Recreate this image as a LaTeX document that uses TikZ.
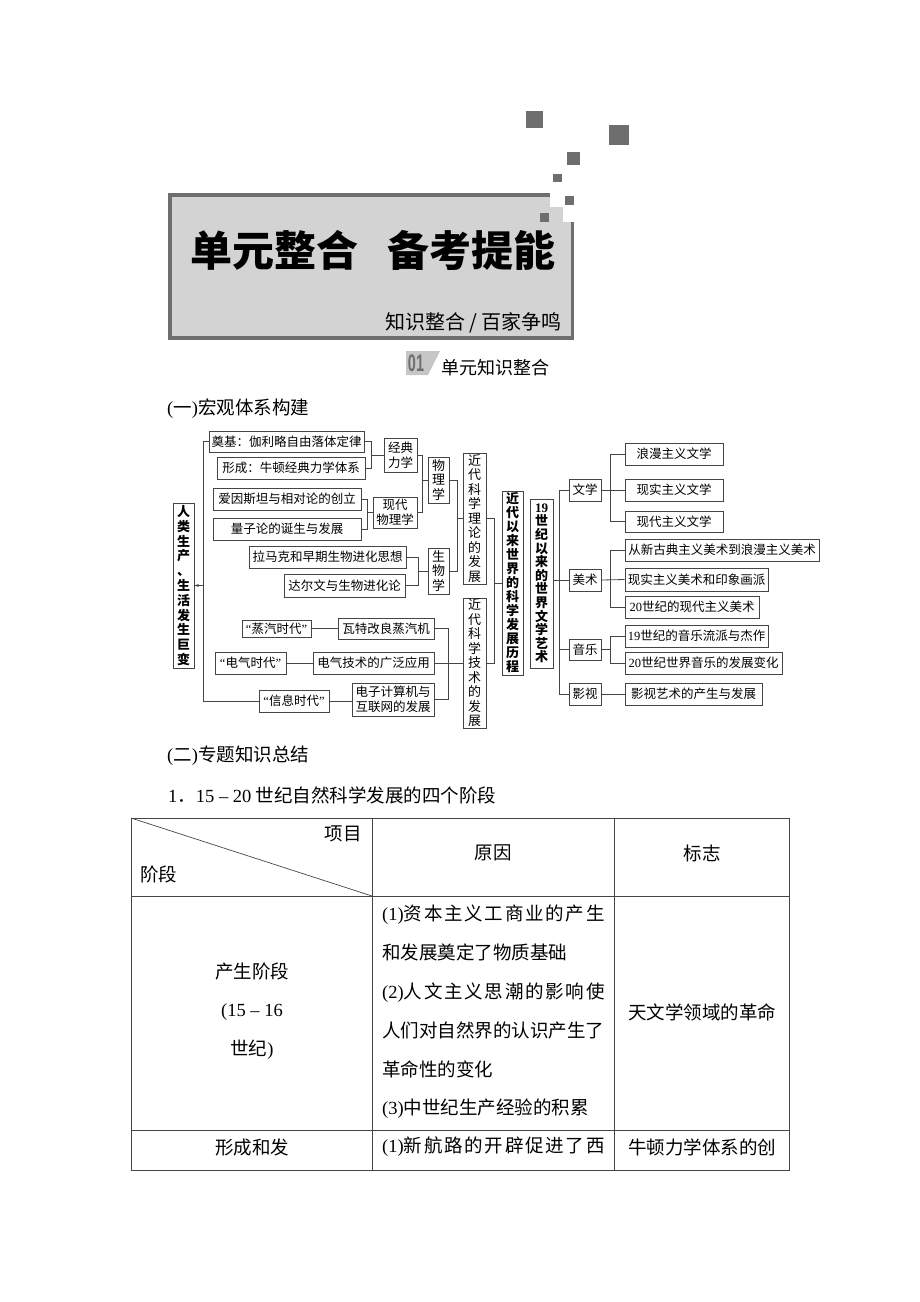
\documentclass[tikz,border=0pt]{standalone}
\usepackage{fontspec}
\setmainfont{Liberation Serif}
\newfontfamily\cjk{Noto Sans CJK SC}
\newfontfamily\latsans{Liberation Sans}
\usetikzlibrary{arrows.meta}

\definecolor{framegray}{HTML}{6E6E6E}
\definecolor{panelgray}{HTML}{D3D3D3}
\definecolor{linegray}{HTML}{454545}
\definecolor{taggray}{HTML}{C6C6C6}

\tikzset{
  box/.style={draw=linegray, line width=0.8pt, inner sep=0pt, align=center,
    font=\cjk\fontsize{12.5}{14.5}\selectfont},
  vbox/.style={box, font=\cjk\fontsize{13}{14.5}\selectfont},
  link/.style={draw=linegray, line width=0.8pt},
  heading/.style={anchor=west, inner sep=0pt, font=\cjk\fontsize{18.5}{18.5}\selectfont},
  tabline/.style={draw=linegray, line width=0.9pt},
  tabtext/.style={inner sep=0pt, font=\cjk\fontsize{18.5}{38.8}\selectfont},
}

% box from corner (x1,y1) to (x2,y2), pixel units
\newcommand\bx[7][]{%
  \node[box,#1,minimum width={#5-#3},minimum height={#6-#4}] (#2)
    at ({(#3+#5)/2},{(#4+#6)/2}) {#7};}

% justified table line
\newcommand\fullline[1]{{\addfontfeature{LetterSpace=9.5}#1}}

\begin{document}
\begin{tikzpicture}[x=1pt, y=-1pt]
  \useasboundingbox (0,0) rectangle (920,1302);

  % header panel
  \fill[panelgray] (170,195) rectangle (572.5,338);
  \fill[white] (550,190) rectangle (580,207);
  \fill[white] (563,207) rectangle (580,222);
  \draw[framegray, line width=3.5pt] (550,195) -- (170,195) -- (170,338) -- (572.5,338) -- (572.5,222);

  % small squares
  \foreach \xa/\ya/\xb/\yb in {526/111/543/128, 609/125/629/145, 567/152/580/165,
      553/174/562/182, 565/196/574/205, 540/213/549/222}
    \fill[framegray] (\xa,\ya) rectangle (\xb,\yb);

  \node[font=\cjk\bfseries\fontsize{42}{42}\selectfont] (title) at (373,250) {单元整合\hspace{30pt}备考提能};
  \node[anchor=east, inner sep=0pt, font=\cjk\fontsize{20}{20}\selectfont] (subtitle) at (562,323) {知识整合 / 百家争鸣};

  % section tag
  \fill[taggray] (406,351) -- (440,351) -- (428,375) -- (406,375) -- cycle;
  \node[inner sep=0pt, xscale=0.6, text=framegray, font=\latsans\bfseries\fontsize{24}{24}\selectfont] (tagnum) at (416,363) {01};
  \node[heading, font=\cjk\fontsize{18}{18}\selectfont] (tagtext) at (441,368) {单元知识整合};

  \node[heading] (sec1) at (167,409) {\textrm{(}一\textrm{)}宏观体系构建};
  \node[heading] (sec2) at (167,756) {\textrm{(}二\textrm{)}专题知识总结};

  % tree: left part
  \bx[vbox, font=\cjk\bfseries\fontsize{13}{14.8}\selectfont]{renlei}{173}{503}{194}{668}{人\\类\\生\\产\\、\\生\\活\\发\\生\\巨\\变}
  \bx{dianji}{209}{431}{364}{452}{奠基：伽利略自由落体定律}
  \bx{xingcheng}{217}{457}{365}{479}{形成：牛顿经典力学体系}
  \bx{aiyinsitan}{213}{488}{361}{510}{爱因斯坦与相对论的创立}
  \bx{liangzi}{213}{518}{361}{540}{量子论的诞生与发展}
  \bx{jingdian}{384}{438}{417}{472}{经典\\力学}
  \bx{xiandai}{373}{497}{417}{528}{现代\\物理学}
  \bx[vbox]{wuli}{428}{457}{449}{503}{物\\理\\学}
  \bx{lamake}{249}{546}{406}{568}{拉马克和早期生物进化思想}
  \bx{daerwen}{284}{574}{405}{597}{达尔文与生物进化论}
  \bx[vbox]{shengwu}{428}{548}{449}{594}{生\\物\\学}
  \bx[vbox]{lilun}{463}{453}{486}{584}{近\\代\\科\\学\\理\\论\\的\\发\\展}
  \bx{zhengqi}{242}{620}{311}{637}{\textrm{“}蒸汽时代\textrm{”}}
  \bx{wate}{338}{618}{434}{639}{瓦特改良蒸汽机}
  \bx{dianqi}{215}{652}{286}{674}{\textrm{“}电气时代\textrm{”}}
  \bx{dianqijishu}{313}{652}{434}{674}{电气技术的广泛应用}
  \bx{xinxi}{259}{690}{329}{712}{\textrm{“}信息时代\textrm{”}}
  \bx[font=\cjk\fontsize{12.5}{15}\selectfont]{jisuanji}{352}{683}{434}{716}{电子计算机与\\互联网的发展}
  \bx[vbox]{jishu}{463}{598}{486}{728}{近\\代\\科\\学\\技\\术\\的\\发\\展}
  \bx[vbox, font=\cjk\bfseries\fontsize{13}{14}\selectfont]{lichen}{502}{491}{523}{675}{近\\代\\以\\来\\世\\界\\的\\科\\学\\发\\展\\历\\程}

  % tree: right part
  \bx[vbox, font=\cjk\bfseries\fontsize{13}{13.6}\selectfont]{yishu}{530}{499}{553}{668}{\textrm{19}\\世\\纪\\以\\来\\的\\世\\界\\文\\学\\艺\\术}
  \bx{wenxue}{569}{479}{601}{501}{文学}
  \bx{meishu}{569}{569}{601}{591}{美术}
  \bx{yinyue}{569}{639}{601}{660}{音乐}
  \bx{yingshi}{569}{683}{601}{705}{影视}
  \bx{langman}{625}{443}{723}{465}{浪漫主义文学}
  \bx{xianshi}{625}{479}{723}{501}{现实主义文学}
  \bx{xiandaiwx}{625}{511}{723}{532}{现代主义文学}
  \bx{xingudian}{625}{539}{819}{561}{从新古典主义美术到浪漫主义美术}
  \bx{xianshims}{625}{568}{768}{591}{现实主义美术和印象画派}
  \bx{ershims}{625}{596}{759}{618}{\textrm{20}世纪的现代主义美术}
  \bx{yinyue19}{625}{625}{768}{647}{\textrm{19}世纪的音乐流派与杰作}
  \bx{yinyue20}{625}{652}{782}{674}{\textrm{20}世纪世界音乐的发展变化}
  \bx{yingshiys}{625}{683}{762}{705}{影视艺术的产生与发展}

  % connectors, left
  \coordinate (lx) at (203,0);
  \draw[link] (dianji.west) -- (dianji.west -| lx) -- (xinxi.west -| lx) -- (xinxi.west);
  \draw[link, -{Stealth[length=4.5pt, width=3pt]}] (lx |- renlei.east) -- (renlei.east);

  % physics
  \coordinate (b1) at (371,0);
  \draw[link] (dianji.east) -- (dianji.east -| b1) -- (xingcheng.east -| b1) -- (xingcheng.east);
  \draw[link] (jingdian.west) -- (jingdian.west -| b1);
  \coordinate (b2) at (367,0);
  \draw[link] (aiyinsitan.east) -- (aiyinsitan.east -| b2) -- (liangzi.east -| b2) -- (liangzi.east);
  \draw[link] (xiandai.west) -- (xiandai.west -| b2);
  \coordinate (b3) at (422,0);
  \draw[link] (jingdian.east) -- (jingdian.east -| b3) -- (xiandai.east -| b3) -- (xiandai.east);
  \draw[link] (wuli.west) -- (wuli.west -| b3);

  % biology
  \coordinate (b4) at (418,0);
  \draw[link] (lamake.east) -- (lamake.east -| b4) -- (daerwen.east -| b4) -- (daerwen.east);
  \draw[link] (shengwu.west) -- (shengwu.west -| b4);
  \coordinate (b5) at (457,0);
  \draw[link] (wuli.east) -- (wuli.east -| b5) -- (shengwu.east -| b5) -- (shengwu.east);
  \draw[link] (lilun.west) -- (lilun.west -| b5);

  % technology
  \draw[link] (zhengqi.east) -- (zhengqi.east -| wate.west);
  \draw[link] (dianqi.east) -- (dianqijishu.west);
  \draw[link] (xinxi.east) -- (xinxi.east -| jisuanji.west);
  \coordinate (b6) at (448,0);
  \draw[link] (wate.east) -- (wate.east -| b6) -- (jisuanji.east -| b6) -- (jisuanji.east);
  \draw[link] (dianqijishu.east) -- (jishu.west |- dianqijishu.east);
  \coordinate (b7) at (494,0);
  \draw[link] (lilun.east) -- (lilun.east -| b7) -- (jishu.east |- dianqijishu.east -| b7) -- (jishu.east |- dianqijishu.east);
  \draw[link] (lichen.west) -- (lichen.west -| b7);

  % arts
  \coordinate (b8) at (559,0);
  \draw[link] (wenxue.west -| b8) -- (yingshi.west -| b8);
  \foreach \n in {wenxue, meishu, yinyue, yingshi}
    \draw[link] (\n.west -| b8) -- (\n.west);
  \draw[link] (yishu.east |- meishu.west) -- (meishu.west -| b8);
  \coordinate (b9) at (610,0);
  \draw[link] (wenxue.east) -- (xianshi.west);
  \draw[link] (langman.west -| b9) -- (xiandaiwx.west -| b9);
  \draw[link] (meishu.east) -- (xianshims.west);
  \draw[link] (xingudian.west -| b9) -- (ershims.west -| b9);
  \draw[link] (yinyue.east) -- (yinyue.east -| b9);
  \draw[link] (yinyue19.west -| b9) -- (yinyue20.west -| b9);
  \foreach \n in {langman, xiandaiwx, xingudian, ershims, yinyue19, yinyue20}
    \draw[link] (\n.west -| b9) -- (\n.west);
  \draw[link] (yingshi.east) -- (yingshiys.west);

  % table
  \node[heading] (tabtitle) at (168,795) {\textrm{1}．\textrm{15 – 20} 世纪自然科学发展的四个阶段};
  \draw[tabline] (131,818) rectangle (789,1170);
  \draw[tabline] (131,896) -- (789,896);
  \draw[tabline] (131,1130) -- (789,1130);
  \draw[tabline] (372,818) -- (372,1170);
  \draw[tabline] (614,818) -- (614,1170);
  \draw[tabline, line width=0.7pt] (131,818) -- (372,896);

  \node[tabtext, anchor=east] (xiangmu) at (362,834) {项目};
  \node[tabtext, anchor=west] (jieduan) at (140,874) {阶段};
  \node[tabtext] (yuanyin) at (493,853) {原因};
  \node[tabtext] (biaozhi) at (702,853) {标志};
  \node[tabtext, align=center] (chansheng) at (252,1011) {产生阶段\\\textrm{(15 – 16}\\世纪\textrm{)}};
  \node[tabtext, anchor=west, align=left] (yuanyin1) at (382,1012) {\fullline{\textrm{(1)}资本主义工商业的产生}\\和发展奠定了物质基础\\\fullline{\textrm{(2)}人文主义思潮的影响使}\\人们对自然界的认识产生了\\革命性的变化\\\textrm{(3)}中世纪生产经验的积累};
  \node[tabtext] (tianwen) at (702,1012) {天文学领域的革命};
  \node[tabtext] (xingcheng2) at (252,1147) {形成和发};
  \node[tabtext, anchor=west] (yuanyin2) at (382,1147) {\fullline{\textrm{(1)}新航路的开辟促进了西}};
  \node[tabtext] (niudun) at (702,1147) {牛顿力学体系的创};
\end{tikzpicture}
\end{document}
